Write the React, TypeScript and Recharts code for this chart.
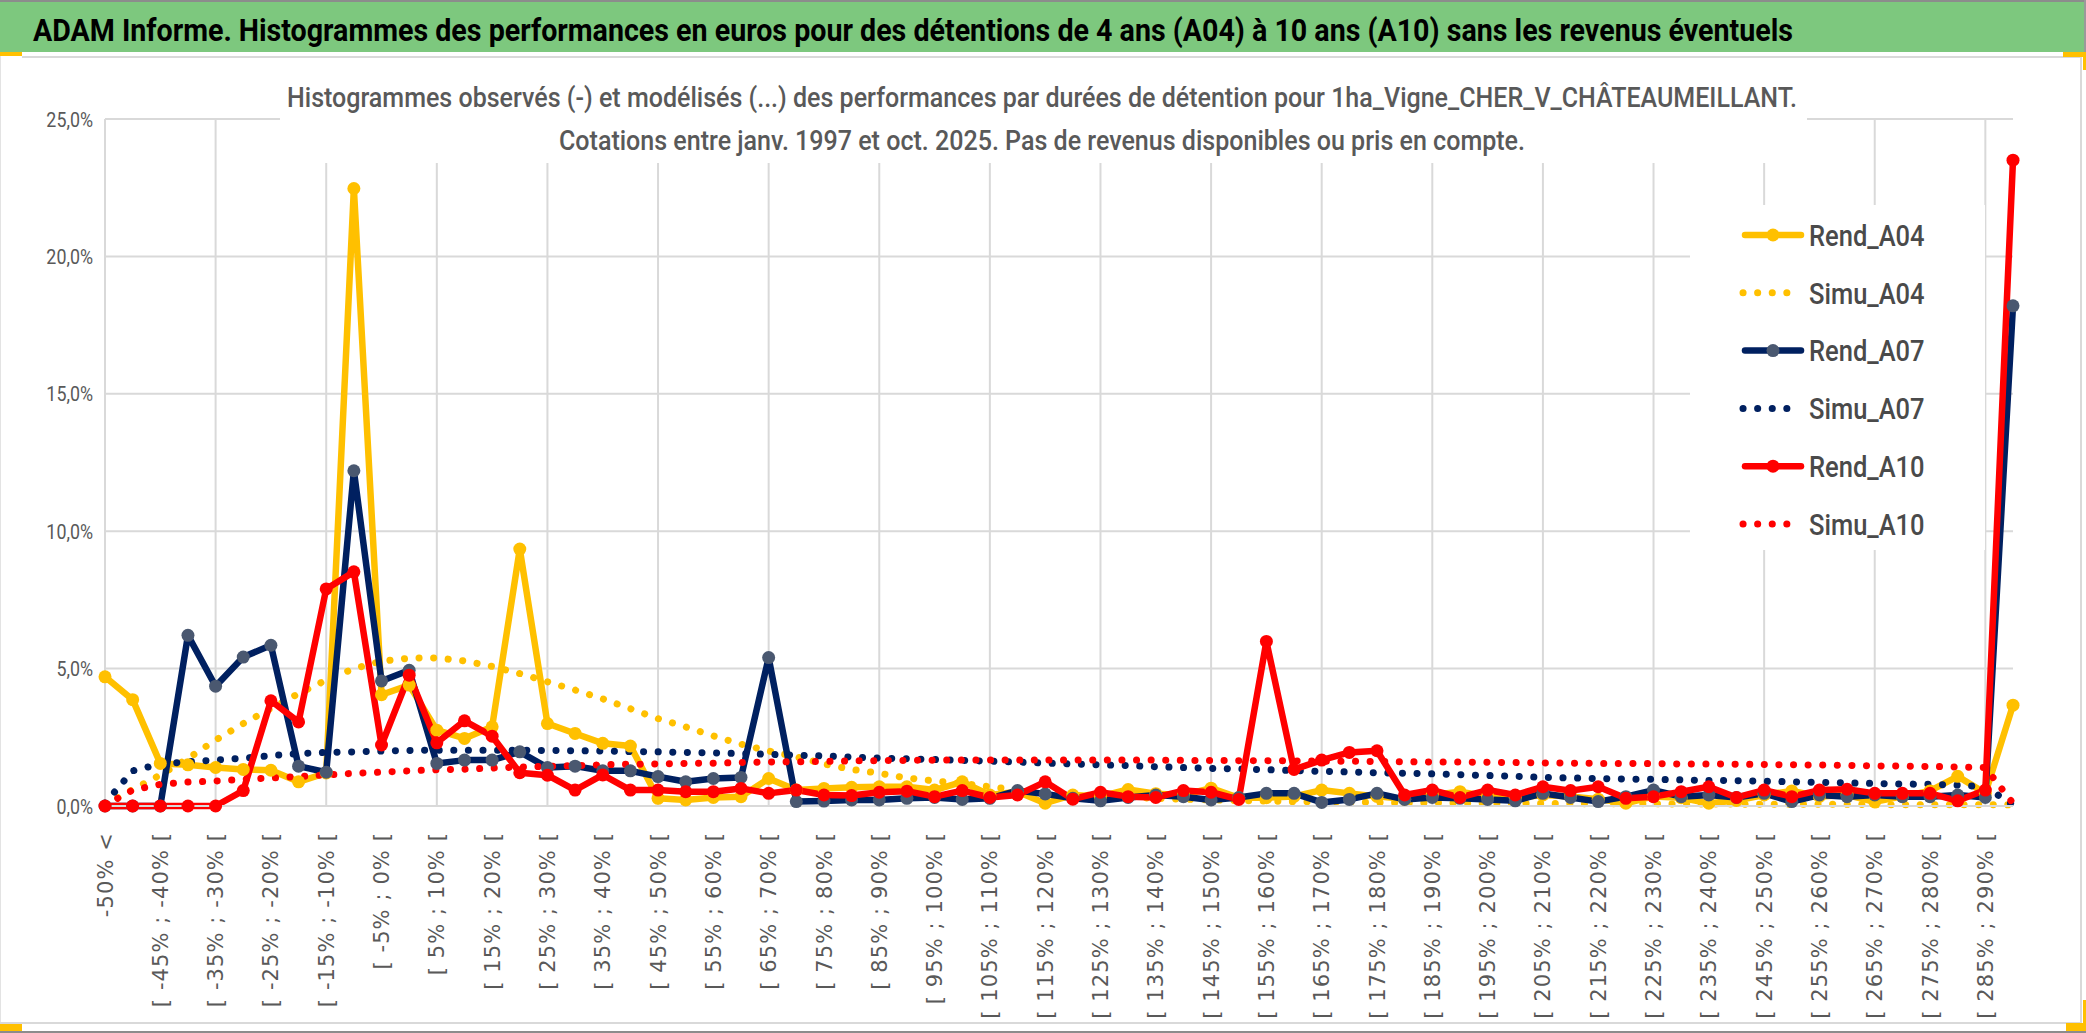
import { CartesianGrid, Legend, Line, LineChart, ReferenceLine, XAxis, YAxis } from "recharts";

const CATEGORIES = [
  "-50% <", "[ -50% ; -45% [", "[ -45% ; -40% [", "[ -40% ; -35% [", "[ -35% ; -30% [",
  "[ -30% ; -25% [", "[ -25% ; -20% [", "[ -20% ; -15% [", "[ -15% ; -10% [", "[ -10% ; -5% [",
  "[ -5% ; 0% [", "[ 0% ; 5% [", "[ 5% ; 10% [", "[ 10% ; 15% [", "[ 15% ; 20% [",
  "[ 20% ; 25% [", "[ 25% ; 30% [", "[ 30% ; 35% [", "[ 35% ; 40% [", "[ 40% ; 45% [",
  "[ 45% ; 50% [", "[ 50% ; 55% [", "[ 55% ; 60% [", "[ 60% ; 65% [", "[ 65% ; 70% [",
  "[ 70% ; 75% [", "[ 75% ; 80% [", "[ 80% ; 85% [", "[ 85% ; 90% [", "[ 90% ; 95% [",
  "[ 95% ; 100% [", "[ 100% ; 105% [", "[ 105% ; 110% [", "[ 110% ; 115% [", "[ 115% ; 120% [",
  "[ 120% ; 125% [", "[ 125% ; 130% [", "[ 130% ; 135% [", "[ 135% ; 140% [", "[ 140% ; 145% [",
  "[ 145% ; 150% [", "[ 150% ; 155% [", "[ 155% ; 160% [", "[ 160% ; 165% [", "[ 165% ; 170% [",
  "[ 170% ; 175% [", "[ 175% ; 180% [", "[ 180% ; 185% [", "[ 185% ; 190% [", "[ 190% ; 195% [",
  "[ 195% ; 200% [", "[ 200% ; 205% [", "[ 205% ; 210% [", "[ 210% ; 215% [", "[ 215% ; 220% [",
  "[ 220% ; 225% [", "[ 225% ; 230% [", "[ 230% ; 235% [", "[ 235% ; 240% [", "[ 240% ; 245% [",
  "[ 245% ; 250% [", "[ 250% ; 255% [", "[ 255% ; 260% [", "[ 260% ; 265% [", "[ 265% ; 270% [",
  "[ 270% ; 275% [", "[ 275% ; 280% [", "[ 280% ; 285% [", "[ 285% ; 290% [", ">= 290%",
];

// values in %
const REND_A04 = [
  4.7, 3.87, 1.55, 1.5, 1.4, 1.33, 1.3, 0.88, 1.2, 22.47,
  4.05, 4.4, 2.76, 2.46, 2.88, 9.35, 3.0, 2.64, 2.28, 2.18,
  0.28, 0.22, 0.31, 0.34, 1.0, 0.58, 0.64, 0.68, 0.7, 0.7,
  0.58, 0.88, 0.4, 0.52, 0.1, 0.4, 0.35, 0.6, 0.45, 0.4,
  0.65, 0.3, 0.3, 0.35, 0.58, 0.46, 0.35, 0.25, 0.4, 0.52,
  0.35, 0.3, 0.4, 0.35, 0.25, 0.1, 0.35, 0.3, 0.1, 0.2,
  0.4, 0.55, 0.35, 0.4, 0.15, 0.35, 0.55, 1.08, 0.46, 3.67,
];
const SIMU_A04 = [
  0.04, 0.6, 1.13, 1.73, 2.4, 3.0, 3.55, 4.09, 4.58, 5.0,
  5.27, 5.38, 5.39, 5.28, 5.08, 4.82, 4.52, 4.22, 3.9, 3.54,
  3.18, 2.88, 2.55, 2.25, 2.0, 1.79, 1.53, 1.33, 1.19, 1.02,
  0.91, 0.82, 0.7, 0.58, 0.48, 0.42, 0.37, 0.32, 0.28, 0.25,
  0.22, 0.2, 0.18, 0.16, 0.15, 0.14, 0.13, 0.12, 0.12, 0.11,
  0.1, 0.1, 0.09, 0.09, 0.08, 0.08, 0.08, 0.07, 0.07, 0.07,
  0.06, 0.06, 0.06, 0.06, 0.05, 0.05, 0.05, 0.05, 0.05, 0.04,
];
const REND_A07 = [
  0, 0, 0, 6.21, 4.36, 5.42, 5.85, 1.45, 1.23, 12.2,
  4.55, 4.94, 1.55, 1.67, 1.67, 1.97, 1.4, 1.45, 1.28, 1.28,
  1.07, 0.88, 1.0, 1.04, 5.4, 0.16, 0.18, 0.22, 0.22, 0.28,
  0.31, 0.24, 0.28, 0.56, 0.44, 0.28, 0.19, 0.31, 0.4, 0.34,
  0.22, 0.31, 0.46, 0.46, 0.13, 0.24, 0.46, 0.24, 0.31, 0.28,
  0.24, 0.19, 0.46, 0.31, 0.16, 0.34, 0.58, 0.34, 0.4, 0.31,
  0.46, 0.16, 0.4, 0.34, 0.4, 0.34, 0.34, 0.4, 0.31, 18.2,
];
const SIMU_A07 = [
  0.1, 1.28, 1.53, 1.61, 1.67, 1.74, 1.83, 1.91, 1.95, 1.97,
  2.0, 2.02, 2.03, 2.03, 2.03, 2.03, 2.02, 2.01, 2.0, 1.98,
  1.97, 1.95, 1.93, 1.91, 1.88, 1.85, 1.82, 1.78, 1.74, 1.72,
  1.69, 1.66, 1.63, 1.6, 1.56, 1.53, 1.5, 1.47, 1.43, 1.4,
  1.37, 1.35, 1.32, 1.29, 1.26, 1.24, 1.21, 1.19, 1.17, 1.14,
  1.11, 1.08, 1.04, 1.02, 1.0, 0.98, 0.97, 0.95, 0.93, 0.92,
  0.9, 0.88, 0.86, 0.84, 0.82, 0.8, 0.79, 0.76, 0.7, 0.04,
];
const REND_A10 = [
  0, 0, 0, 0, 0, 0.56, 3.83, 3.06, 7.9, 8.52,
  2.22, 4.76, 2.3, 3.1, 2.54, 1.21, 1.12, 0.58, 1.13, 0.58,
  0.58, 0.52, 0.52, 0.64, 0.46, 0.58, 0.4, 0.38, 0.5, 0.54,
  0.34, 0.56, 0.31, 0.4, 0.88, 0.25, 0.5, 0.34, 0.31, 0.56,
  0.5, 0.24, 5.99, 1.33, 1.67, 1.95, 2.01, 0.4, 0.58, 0.31,
  0.58, 0.4, 0.7, 0.56, 0.7, 0.28, 0.34, 0.52, 0.7, 0.31,
  0.58, 0.34, 0.58, 0.61, 0.46, 0.46, 0.46, 0.19, 0.58, 23.5,
];
const SIMU_A10 = [
  0.02, 0.58, 0.79, 0.87, 0.91, 0.97, 1.02, 1.07, 1.13, 1.19,
  1.23, 1.28, 1.32, 1.34, 1.38, 1.42, 1.44, 1.47, 1.5, 1.52,
  1.53, 1.55, 1.56, 1.58, 1.6, 1.61, 1.62, 1.64, 1.65, 1.66,
  1.67, 1.67, 1.67, 1.67, 1.67, 1.67, 1.67, 1.67, 1.67, 1.66,
  1.66, 1.65, 1.65, 1.64, 1.63, 1.63, 1.62, 1.61, 1.6, 1.6,
  1.59, 1.58, 1.57, 1.56, 1.55, 1.55, 1.54, 1.53, 1.53, 1.52,
  1.51, 1.5, 1.49, 1.48, 1.46, 1.45, 1.44, 1.42, 1.4, 0.1,
];

const Y_TICKS = [0, 5, 10, 15, 20, 25];

const MAIN_TITLE =
  "ADAM Informe. Histogrammes des performances en euros pour des détentions de 4 ans (A04) à 10 ans (A10) sans les revenus éventuels";
const CHART_TITLE_1 =
  "Histogrammes observés (-) et modélisés (...) des performances par durées de détention pour 1ha_Vigne_CHER_V_CHÂTEAUMEILLANT.";
const CHART_TITLE_2 =
  "Cotations entre janv. 1997 et oct. 2025. Pas de revenus disponibles ou pris en compte.";

const data = CATEGORIES.map((cat, i) => ({
  cat,
  rendA04: REND_A04[i],
  simuA04: SIMU_A04[i],
  rendA07: REND_A07[i],
  simuA07: SIMU_A07[i],
  rendA10: REND_A10[i],
  simuA10: SIMU_A10[i],
}));

const YELLOW = "#FFC000";
const NAVY = "#002060";
const RED = "#FF0000";

const SERIES = [
  { key: "rendA04", name: "Rend_A04", color: YELLOW, marker: YELLOW, dotted: false },
  { key: "simuA04", name: "Simu_A04", color: YELLOW, marker: YELLOW, dotted: true },
  { key: "rendA07", name: "Rend_A07", color: NAVY, marker: "#4A5870", dotted: false },
  { key: "simuA07", name: "Simu_A07", color: NAVY, marker: NAVY, dotted: true },
  { key: "rendA10", name: "Rend_A10", color: RED, marker: RED, dotted: false },
  { key: "simuA10", name: "Simu_A10", color: RED, marker: RED, dotted: true },
];

// vertical gridlines every 4th category, like the Excel original
const GRID_CATS = CATEGORIES.filter((_, i) => i % 4 === 0);

const FONT = "Roboto, 'Liberation Sans', sans-serif";
const GREY_TEXT = "#595959";
const DOT_DASH = "0.1 14.5";

function fmtPct(v: number) {
  return `${v.toFixed(1).replace(".", ",")}%`;
}

function CategoryTick({ x, y, payload }: any) {
  const ty = y + 26;
  return (
    <text
      x={x}
      y={ty}
      transform={`rotate(-90 ${x} ${ty})`}
      textAnchor="end"
      dy="0.36em"
      fill={GREY_TEXT}
      fontFamily="'DejaVu Sans', sans-serif"
      fontSize={21}
      letterSpacing={1.1}
    >
      {payload.value}
    </text>
  );
}

function PctTick({ x, y, payload }: any) {
  return (
    <text
      transform={`translate(${x} ${y}) scale(0.85 1)`}
      textAnchor="end"
      dy="0.36em"
      fill={GREY_TEXT}
      fontFamily={FONT}
      fontSize={21}
    >
      {fmtPct(payload.value)}
    </text>
  );
}

function LegendBox() {
  return (
    <svg width={295} height={345} style={{ display: "block", background: "#fff" }}>
      {SERIES.map((s, i) => {
        const cy = 30 + i * 57.8;
        return (
          <g key={s.key}>
            {s.dotted ? (
              <line
                x1={53}
                x2={110}
                y1={cy}
                y2={cy}
                stroke={s.color}
                strokeWidth={7}
                strokeDasharray="0.1 14.5"
                strokeLinecap="round"
              />
            ) : (
              <>
                <line x1={55} x2={111} y1={cy} y2={cy} stroke={s.color} strokeWidth={6.5} strokeLinecap="round" />
                <circle cx={83} cy={cy} r={6.5} fill={s.marker} />
              </>
            )}
            <text
              transform={`translate(119 ${cy}) scale(0.85 1)`}
              dy="0.36em"
              fontFamily={FONT}
              fontWeight={500}
              fontSize={30}
              fill="#4a4a4a"
            >
              {s.name}
            </text>
          </g>
        );
      })}
    </svg>
  );
}

function Frame() {
  const box = (l: number, t: number, w: number, h: number, bg: string) => ({
    position: "absolute" as const,
    left: l,
    top: t,
    width: w,
    height: h,
    background: bg,
  });
  return (
    <>
      <div style={box(0, 0, 2086, 1033, "#fff")} />
      <div style={box(0, 0, 2086, 2, "#8c8c8c")} />
      <div style={box(0, 2, 2084, 50, "#7DC87E")} />
      <div style={box(2084, 0, 2, 56, "#9a9a9a")} />
      <div style={box(22, 56, 2060, 2, "#d9d9d9")} />
      <div style={box(2080, 56, 2, 968, "#d9d9d9")} />
      <div style={box(0, 56, 1, 968, "#e3e3e3")} />
      <div style={box(0, 1022, 2082, 2, "#d9d9d9")} />
      <div style={box(0, 1031, 2086, 2, "#8c8c8c")} />
      <div style={box(0, 52, 22, 4, YELLOW)} />
      <div style={box(2063, 52, 23, 5, YELLOW)} />
      <div style={box(2083, 52, 3, 18, YELLOW)} />
      <div style={box(0, 1024, 22, 7, YELLOW)} />
      <div style={box(2066, 1023, 20, 8, YELLOW)} />
      <div style={box(2083, 1000, 3, 31, YELLOW)} />
    </>
  );
}

function Titles() {
  return (
    <svg
      width={2086}
      height={1033}
      style={{ position: "absolute", left: 0, top: 0, pointerEvents: "none" }}
    >
      <text
        x={33}
        y={41}
        fontFamily={FONT}
        fontWeight="bold"
        fontSize={32}
        fill="#000"
        textLength={1760}
        lengthAdjust="spacingAndGlyphs"
      >
        {MAIN_TITLE}
      </text>
      <rect x={280} y={68} width={1527} height={95} fill="#fff" />
      <text
        x={287}
        y={107}
        fontFamily={FONT}
        fontWeight={500}
        fontSize={28}
        fill={GREY_TEXT}
        textLength={1510}
        lengthAdjust="spacingAndGlyphs"
      >
        {CHART_TITLE_1}
      </text>
      <text
        x={559}
        y={150}
        fontFamily={FONT}
        fontWeight={500}
        fontSize={28}
        fill={GREY_TEXT}
        textLength={966}
        lengthAdjust="spacingAndGlyphs"
      >
        {CHART_TITLE_2}
      </text>
    </svg>
  );
}

export default function App() {
  return (
    <div style={{ position: "absolute", left: 0, top: 0, width: 2086, height: 1033, overflow: "hidden" }}>
      <Frame />
      <div style={{ position: "absolute", left: 0, top: 0 }}>
        <LineChart
          width={2086}
          height={1033}
          data={data}
          margin={{ top: 119, right: 73, left: 45, bottom: 27 }}
        >
          <CartesianGrid stroke="#d9d9d9" strokeWidth={2} vertical={false} />
          {GRID_CATS.map((c) => (
            <ReferenceLine key={c} x={c} stroke="#d9d9d9" strokeWidth={2} zIndex={-50} />
          ))}
          <XAxis
            dataKey="cat"
            interval={1}
            tickLine={false}
            tickSize={0}
            tickMargin={0}
            axisLine={{ stroke: "#d9d9d9", strokeWidth: 2 }}
            height={200}
            tick={<CategoryTick />}
          />
          <YAxis
            domain={[0, 25]}
            ticks={Y_TICKS}
            axisLine={false}
            tickLine={false}
            tickSize={0}
            tickMargin={12}
            width={60}
            tick={<PctTick />}
          />
          <Legend
            layout="vertical"
            align="center"
            verticalAlign="middle"
            wrapperStyle={{ position: "absolute", left: 1690, top: 205, width: 295, height: 345 }}
            content={() => <LegendBox />}
          />
          {SERIES.map((s) =>
            s.dotted ? (
              <Line
                key={s.key}
                type="linear"
                dataKey={s.key}
                name={s.name}
                stroke={s.color}
                strokeWidth={7}
                strokeDasharray={DOT_DASH}
                strokeLinecap="round"
                dot={false}
                activeDot={false}
                isAnimationActive={false}
              />
            ) : (
              <Line
                key={s.key}
                type="linear"
                dataKey={s.key}
                name={s.name}
                stroke={s.color}
                strokeWidth={6.5}
                strokeLinejoin="round"
                dot={{ r: 6.5, fill: s.marker, stroke: s.marker, strokeWidth: 0 }}
                activeDot={false}
                isAnimationActive={false}
              />
            )
          )}
        </LineChart>
      </div>
      <Titles />
    </div>
  );
}
